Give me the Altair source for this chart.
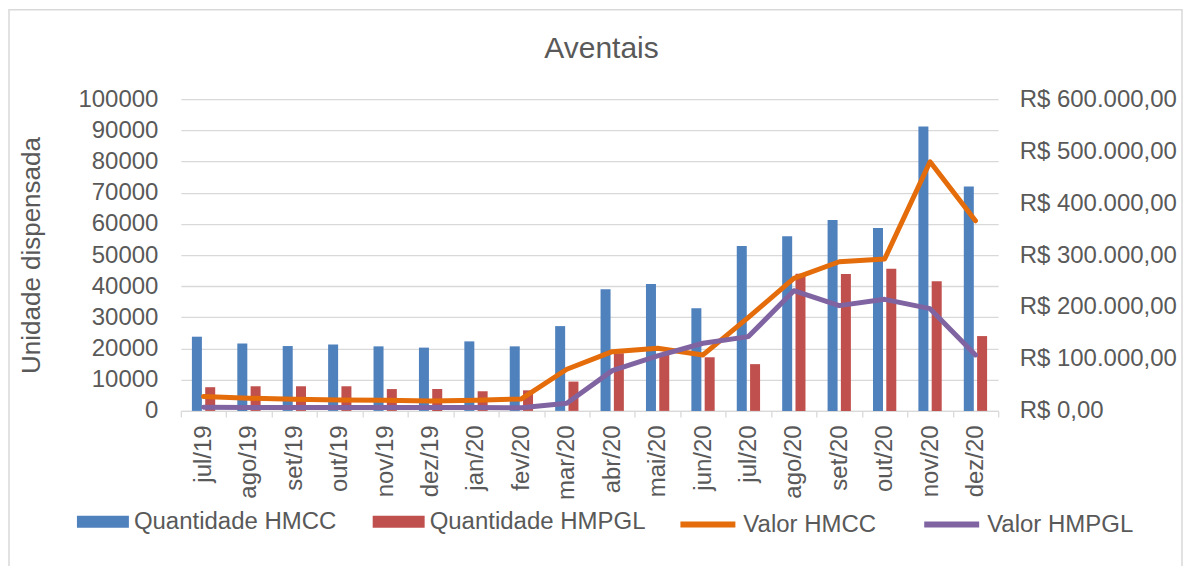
import altair as alt
import pandas as pd

months = ["jul/19", "ago/19", "set/19", "out/19", "nov/19", "dez/19", "jan/20", "fev/20", "mar/20",
          "abr/20", "mai/20", "jun/20", "jul/20", "ago/20", "set/20", "out/20", "nov/20", "dez/20"]
qtd_hmcc = [23800, 21600, 20800, 21300, 20700, 20300, 22300, 20700, 27200,
            39000, 40700, 32900, 52900, 56000, 61200, 58700, 91200, 72000]
qtd_hmpgl = [7600, 7900, 7900, 7900, 7000, 7000, 6300, 6600, 9400,
             18500, 18000, 17200, 15000, 44000, 43900, 45600, 41600, 24000]
valor_hmcc = [27500, 24400, 22400, 21200, 20500, 19200, 20500, 23000, 80100,
              114000, 120500, 107700, 180100, 255100, 287100, 292300, 479500, 366000]
valor_hmpgl = [7000, 6400, 6400, 6400, 6400, 6400, 6400, 6000, 14700,
               77500, 105800, 130200, 143000, 231400, 202600, 214700, 196800, 107700]

bar_series = ["Quantidade HMCC", "Quantidade HMPGL"]
line_series = ["Valor HMCC", "Valor HMPGL"]
bar_colors = ["#4F81BD", "#C0504D"]
line_colors = ["#E46C0A", "#8064A2"]
left_ticks = list(range(0, 100001, 10000))
right_ticks = list(range(0, 600001, 100000))
title_text = ["Aventais"]

bars_df = pd.DataFrame({
    "mes": months * 2,
    "serie": [bar_series[0]] * len(months) + [bar_series[1]] * len(months),
    "qtd": qtd_hmcc + qtd_hmpgl,
})
lines_df = pd.DataFrame({
    "mes": months * 2,
    "serie": [line_series[0]] * len(months) + [line_series[1]] * len(months),
    "valor": valor_hmcc + valor_hmpgl,
})

FONT = "Liberation Sans"
GRAY = "#595959"
LIGHT = "#D9D9D9"

x_enc = alt.X(
    "mes:N", sort=months,
    scale=alt.Scale(paddingInner=0, paddingOuter=0),
    axis=alt.Axis(title=None, labelAngle=270, labelFont=FONT, labelFontSize=24, labelColor=GRAY,
                  labelPadding=8, tickBand="extent", tickSize=6, tickColor=LIGHT, tickWidth=1.3,
                  domainColor=LIGHT, domainWidth=1.3, grid=False),
)

frame = alt.Chart(pd.DataFrame({"a": [0]})).mark_rect(
    filled=False, stroke=LIGHT, strokeWidth=1.5
).encode(x=alt.value(-172), x2=alt.value(1002), y=alt.value(-89.5), y2=alt.value(480))

title = alt.Chart(pd.DataFrame({"t": title_text})).mark_text(
    font=FONT, fontSize=30, color=GRAY, align="center", baseline="alphabetic"
).encode(text="t:N", x=alt.value(421), y=alt.value(-41))

bars = alt.Chart(bars_df).mark_bar().encode(
    x=x_enc,
    xOffset=alt.XOffset("serie:N", sort=bar_series,
                        scale=alt.Scale(paddingInner=0.248, paddingOuter=0.831)),
    y=alt.Y("qtd:Q", scale=alt.Scale(domain=[0, 100000], nice=False),
            axis=alt.Axis(orient="left", values=left_ticks, format="d",
                          title="Unidade dispensada", titleFont=FONT, titleFontSize=26,
                          titleFontWeight="normal", titleColor=GRAY, titlePadding=33,
                          labelFont=FONT, labelFontSize=24, labelColor=GRAY, labelPadding=23,
                          ticks=False, domain=False, grid=True, gridColor=LIGHT, gridWidth=1.3)),
    fill=alt.Fill("serie:N", sort=bar_series,
                  scale=alt.Scale(domain=bar_series, range=bar_colors),
                  legend=alt.Legend(title=None, orient="none", legendX=-104, legendY=397,
                                    direction="horizontal", padding=0, columnPadding=36,
                                    labelOffset=5, labelLimit=400, labelFont=FONT,
                                    labelFontSize=24, labelColor=GRAY,
                                    symbolType="M-1,-0.23H1V0.23H-1Z", symbolSize=2704,
                                    symbolStrokeWidth=0)),
)

lines = alt.Chart(lines_df).mark_line(strokeWidth=5, strokeCap="round", strokeJoin="round").encode(
    x=x_enc,
    y=alt.Y("valor:Q", scale=alt.Scale(domain=[0, 600000], nice=False),
            axis=alt.Axis(orient="right", values=right_ticks, title=None,
                          labelExpr="'R$ ' + replace(replace(replace(format(datum.value, ',.2f'), ',', '_'), '.', ','), '_', '.')",
                          labelFont=FONT, labelFontSize=24, labelColor=GRAY, labelPadding=21,
                          ticks=False, domain=False, grid=False)),
    stroke=alt.Stroke("serie:N", sort=line_series,
                      scale=alt.Scale(domain=line_series, range=line_colors),
                      legend=alt.Legend(title=None, orient="none", legendX=497, legendY=395,
                                        direction="horizontal", padding=0, columnPadding=36,
                                        labelOffset=5, labelLimit=400, labelFont=FONT,
                                        labelFontSize=24, labelColor=GRAY,
                                        symbolType="stroke", symbolSize=3025,
                                        symbolStrokeWidth=6)),
)

chart = alt.layer(frame, title, bars, lines).resolve_scale(
    y="independent", fill="independent", stroke="independent"
).properties(
    width=818, height=312,
    autosize=alt.AutoSizeParams(type="none"),
    padding={"left": 173, "top": 91, "right": 185, "bottom": 155},
).configure_view(strokeWidth=0)

chart.save("out.html", embed_options={"renderer": "svg", "actions": False})
